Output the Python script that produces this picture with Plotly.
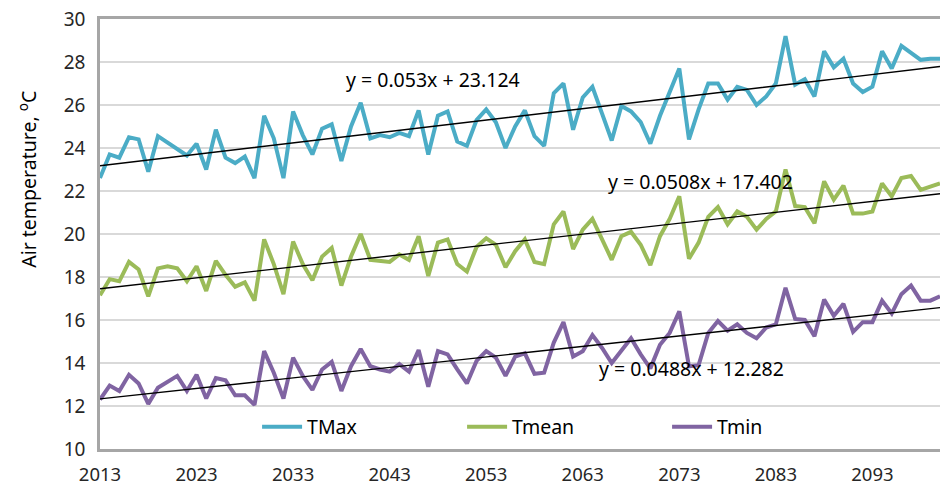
import plotly.graph_objects as go

years = list(range(2013, 2101))

tmax = [22.6, 23.7, 23.55, 24.5, 24.4, 22.9, 24.55, 24.25, 23.9, 23.65,
        24.2, 23.0, 24.85, 23.55, 23.3, 23.6, 22.6, 25.5, 24.45, 22.6,
        25.7, 24.6, 23.7, 24.9, 25.1, 23.4, 25.0, 26.1, 24.45, 24.6,
        24.5, 24.7, 24.55, 25.75, 23.7, 25.5, 25.7, 24.3, 24.1, 25.3,
        25.8, 25.2, 24.0, 25.0, 25.75, 24.55, 24.1, 26.55, 27.0, 24.85,
        26.35, 26.85, 25.6, 24.35, 25.95, 25.7, 25.2, 24.2, 25.5, 26.6,
        27.7, 24.4, 25.8, 27.0, 27.0, 26.25, 26.85, 26.7, 26.0, 26.4,
        27.0, 29.2, 26.95, 27.2, 26.4, 28.5, 27.75, 28.15, 27.0, 26.6,
        26.85, 28.5, 27.7, 28.75, 28.4, 28.1, 28.15, 28.15]

tmean = [17.15, 17.9, 17.8, 18.7, 18.35, 17.1, 18.4, 18.5, 18.4, 17.8,
         18.5, 17.35, 18.75, 18.1, 17.55, 17.75, 16.9, 19.75, 18.6, 17.2,
         19.65, 18.6, 17.85, 18.95, 19.35, 17.6, 18.95, 20.0, 18.8, 18.75,
         18.7, 19.05, 18.8, 19.9, 18.05, 19.6, 19.75, 18.6, 18.25, 19.4,
         19.8, 19.5, 18.45, 19.2, 19.75, 18.7, 18.6, 20.45, 21.05, 19.3,
         20.2, 20.7, 19.8, 18.8, 19.9, 20.1, 19.5, 18.55, 19.9, 20.7,
         21.75, 18.85, 19.6, 20.8, 21.25, 20.45, 21.05, 20.8, 20.2, 20.7,
         21.05, 23.0, 21.3, 21.25, 20.5, 22.45, 21.6, 22.25, 20.95, 20.95,
         21.05, 22.35, 21.75, 22.6, 22.7, 22.05, 22.2, 22.35]

tmin = [12.3, 12.95, 12.7, 13.45, 13.05, 12.1, 12.85, 13.1, 13.4, 12.7,
        13.45, 12.35, 13.3, 13.2, 12.5, 12.5, 12.05, 14.55, 13.55, 12.35,
        14.25, 13.4, 12.75, 13.7, 14.05, 12.7, 13.85, 14.65, 13.85, 13.7,
        13.6, 13.95, 13.6, 14.6, 12.9, 14.55, 14.4, 13.7, 13.05, 14.1,
        14.55, 14.25, 13.4, 14.3, 14.45, 13.5, 13.55, 14.95, 15.9, 14.3,
        14.55, 15.3, 14.7, 14.0, 14.55, 15.15, 14.4, 13.75, 14.85, 15.4,
        16.4, 13.85, 13.9, 15.4, 15.95, 15.5, 15.8, 15.4, 15.15, 15.65,
        15.8, 17.5, 16.05, 16.0, 15.25, 16.95, 16.2, 16.75, 15.45, 15.9,
        15.9, 16.9, 16.3, 17.2, 17.6, 16.9, 16.9, 17.1]

series_names = ["TMax", "Tmean", "Tmin"]
series_colors = ["#4BACC6", "#9BBB59", "#8064A2"]

# Linear trends, x counted as 1, 2, ... from the first year
trend_slopes = [0.053, 0.0508, 0.0488]
trend_intercepts = [23.124, 17.402, 12.282]
trend_label_years = [2047.5, 2075.2, 2074.3]
trend_label_values = [27.2, 22.45, 13.75]

x_tick_years = list(range(2013, 2101, 10))
y_ticks = list(range(10, 31, 2))

FONT = "Noto Sans"

fig = go.Figure()

for name, color, vals in zip(series_names, series_colors, [tmax, tmean, tmin]):
    fig.add_trace(go.Scatter(
        x=years, y=vals, mode="lines", name=name,
        line=dict(color=color, width=4),
    ))

idx = [y - years[0] + 1 for y in years]
for a, b, lx, ly in zip(trend_slopes, trend_intercepts, trend_label_years, trend_label_values):
    fig.add_trace(go.Scatter(
        x=years, y=[a * i + b for i in idx], mode="lines",
        line=dict(color="black", width=1.4), showlegend=False, hoverinfo="skip",
    ))
    fig.add_annotation(
        x=lx, y=ly, xref="x", yref="y",
        text=f"y = {a:g}x + {b:g}", showarrow=False,
        font=dict(family=FONT, size=19.5, color="black"),
    )

fig.add_annotation(
    x=-0.0857, y=0.626, xref="paper", yref="paper",
    xanchor="center", yanchor="middle",
    text="Air temperature, <sup>o</sup>C", textangle=-90, showarrow=False,
    font=dict(family=FONT, size=19.5, color="black"),
)

fig.update_layout(
    width=941, height=485,
    margin=dict(l=100, r=1, t=19, b=36),
    paper_bgcolor="white", plot_bgcolor="white",
    font=dict(family=FONT, size=19, color="#262626"),
    showlegend=True,
    legend=dict(
        orientation="h", x=0.187, y=0.051, xanchor="left", yanchor="middle",
        bgcolor="rgba(0,0,0,0)", font=dict(family=FONT, size=19.5, color="black"),
        entrywidth=150, entrywidthmode="pixels", itemwidth=40,
    ),
    xaxis=dict(
        range=[2013, 2100], tickvals=x_tick_years, ticks="",
        showgrid=False, zeroline=False, automargin=False,
        showline=True, linecolor="#a6a6a6", linewidth=2.5, mirror=True,
        tickfont=dict(family=FONT, size=18.5, color="#262626"),
        ticklabelstandoff=7,
    ),
    yaxis=dict(
        range=[10, 30], tickvals=y_ticks, ticks="", automargin=False,
        showgrid=True, gridcolor="#d9d9d9", gridwidth=1.5, zeroline=False,
        showline=True, linecolor="#a6a6a6", linewidth=2.5,
        tickfont=dict(family=FONT, size=19, color="#262626"),
        ticklabelstandoff=8,
    ),
)

fig.write_html("out.html")
